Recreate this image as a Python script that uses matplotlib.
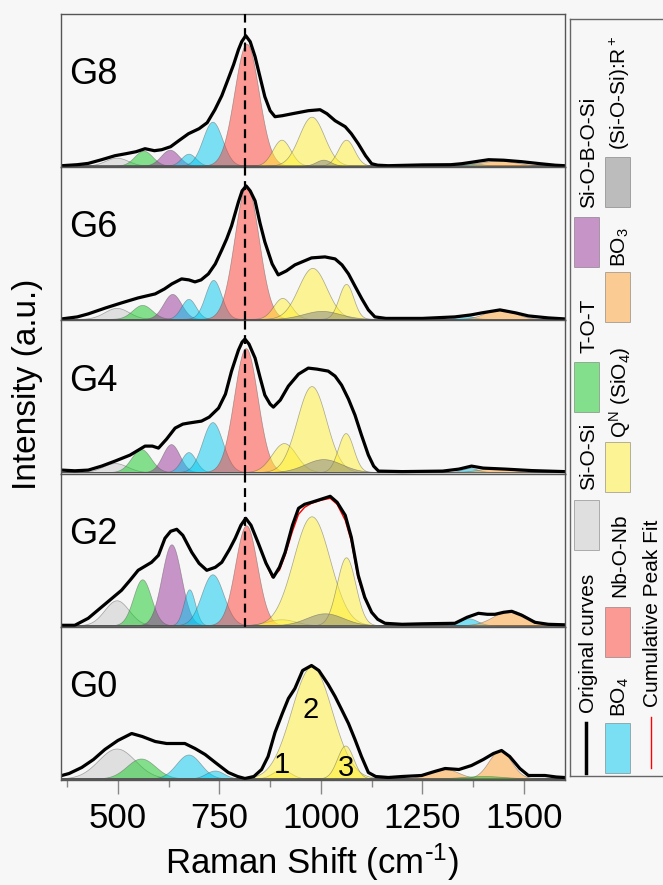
import numpy as np
import matplotlib.pyplot as plt
from matplotlib.patches import Rectangle
from matplotlib.ticker import FixedLocator

plt.rcParams['font.family'] = ['Liberation Sans', 'DejaVu Sans']
plt.rcParams['mathtext.default'] = 'regular'

samples = ['G8', 'G6', 'G4', 'G2', 'G0']

# band of each fitted component (same order for every sample)
peak_band = ['Si-O-Si', 'T-O-T', 'Si-O-B-O-Si', 'BO4', 'BO4', 'Nb-O-Nb',
             'QN', 'QN', 'QN', 'SiOSiR', 'BO4', 'BO3', 'BO3', 'T-O-T']

# fitted gaussian components: centre (cm-1), height (a.u.), sigma (cm-1)
peak_center = [
    [497, 563, 628, 674, 733, 817, 903, 977, 1062, 1006, 1371, 1305, 1437, 1410],
    [497, 560, 634, 674, 735, 817, 905, 979, 1062, 1002, 1355, 1305, 1441, 1410],
    [493, 557, 631, 674, 733, 815, 909, 977, 1061, 1006, 1367, 1305, 1429, 1410],
    [497, 560, 632, 676, 733, 816, 903, 977, 1062, 1010, 1363, 1305, 1466, 1410],
    [497, 557, 632, 674, 739, 815, 903, 977, 1060, 1006, 1371, 1302, 1441, 1400],
]
peak_height = [
    [8, 15, 16, 12, 44, 122, 26, 49, 26, 6, 2.5, 0, 5, 0],
    [11, 14, 25, 20, 39, 133, 21, 51, 35, 8, 3, 0, 10, 0],
    [9, 23, 28, 20, 50, 124, 29, 86, 39, 13, 4, 0, 4, 0],
    [25, 46, 81, 36, 51, 100, 6, 109, 68, 12, 7, 0, 15, 0],
    [30, 20, 0, 24, 8, 0, 9, 112, 33, 0, 0, 10, 28, 2.5],
]
peak_sigma = [
    [28, 22, 22, 18, 24, 30, 22, 31, 20, 18, 25, 30, 45, 40],
    [30, 24, 22, 18, 20, 30, 22, 35, 18, 45, 20, 30, 35, 40],
    [30, 24, 21, 18, 25, 29, 30, 36, 19, 45, 20, 30, 40, 40],
    [30, 22, 24, 14, 27, 27, 35, 45, 23, 45, 22, 30, 40, 40],
    [45, 35, 22, 30, 22, 30, 22, 50, 20, 45, 20, 35, 28, 50],
]

# original spectra
orig_wn = [
    [362, 400, 427, 460, 493, 520, 545, 567, 590, 608, 630, 650, 674, 700, 720, 739, 756, 772, 785, 797,
     805, 815, 826, 838, 850, 862, 875, 887, 905, 930, 969, 998, 1015, 1035, 1060, 1075, 1092, 1110, 1125,
     1140, 1166, 1250, 1320, 1347, 1380, 1413, 1450, 1495, 1540, 1577, 1600],
    [362, 400, 427, 470, 509, 550, 592, 615, 633, 657, 675, 690, 705, 723, 740, 756, 768, 780, 797, 806,
     816, 826, 838, 850, 862, 880, 895, 915, 936, 977, 1010, 1035, 1052, 1068, 1085, 1101, 1117, 1133, 1160,
     1250, 1330, 1370, 1396, 1441, 1480, 1511, 1560, 1600],
    [362, 394, 427, 460, 493, 530, 567, 585, 600, 620, 641, 660, 674, 690, 706, 725, 748, 765, 780, 797,
     806, 813, 823, 838, 850, 862, 875, 883, 900, 920, 945, 969, 990, 1018, 1035, 1051, 1068, 1084, 1100,
     1117, 1130, 1142, 1200, 1300, 1340, 1371, 1400, 1454, 1520, 1560, 1600],
    [362, 394, 427, 468, 509, 530, 550, 583, 600, 616, 630, 645, 660, 682, 700, 719, 740, 756, 775, 789,
     803, 815, 828, 846, 865, 883, 898, 912, 930, 945, 960, 977, 1000, 1023, 1040, 1060, 1075, 1092, 1108,
     1125, 1140, 1158, 1200, 1250, 1330, 1360, 1388, 1410, 1429, 1450, 1470, 1495, 1527, 1560, 1600],
    [362, 380, 411, 440, 468, 500, 534, 560, 592, 620, 645, 665, 690, 715, 740, 772, 795, 813, 835, 854,
     870, 887, 905, 920, 936, 955, 977, 995, 1018, 1035, 1051, 1068, 1084, 1100, 1117, 1135, 1166, 1200,
     1248, 1280, 1306, 1340, 1371, 1400, 1425, 1445, 1465, 1490, 1511, 1552, 1580, 1600],
]
orig_int = [
    [0, 1, 2.3, 6, 10, 12, 14, 17, 15, 16, 19, 25, 32, 37, 43, 56, 70, 87, 101, 116,
     124, 130, 124, 109, 89, 69, 55, 49, 50, 52, 55, 56, 52, 45, 39, 32, 22, 10, 2,
     0.5, 0, 0.8, 1, 2, 4, 6, 5.5, 4, 2, 0.5, 0],
    [0, 2, 5, 11, 16, 21, 25, 30, 35, 40, 39, 37, 39, 45, 55, 69, 80, 93, 117, 128,
     133, 128, 118, 96, 77, 55, 44, 48, 54, 61, 62, 60, 54, 45, 32, 20, 9, 2, 0.5,
     0.5, 2, 4, 6, 9, 6, 3, 1, 0],
    [2, 1.3, 2, 6, 11, 17, 26, 26, 24, 33, 44, 48, 49, 50, 51, 55, 64, 78, 101, 122,
     130, 133, 128, 114, 95, 77, 68, 65, 72, 86, 98, 104, 103, 101, 96, 87, 73, 57, 37,
     17, 6, 1, 0.5, 1, 3, 6, 4, 3, 1.5, 1, 0.5],
    [0, 0, 7, 21, 35, 45, 55, 63, 70, 87, 94, 96, 90, 73, 62, 55, 58, 63, 76, 87,
     100, 107, 100, 82, 62, 48, 58, 73, 100, 117, 121, 123, 126, 129, 123, 110, 88, 50, 28,
     13, 6, 2, 1, 1.5, 2, 8, 12, 11, 11, 13, 14, 10, 3, 1, 0.5],
    [3, 5, 11, 19, 29, 38, 45, 42, 37, 35, 35, 35, 30, 24, 16, 6, 2, 0, 2, 9,
     22, 46, 65, 80, 90, 108, 113, 108, 94, 82, 69, 55, 39, 22, 6, 2, 1, 2,
     3, 7, 10, 9, 13, 19, 25, 28, 22, 10, 3, 3, 1.5, 1],
]
# cumulative fit of G2 where it departs from the measured curve
fit_g2_wn = [880, 898, 912, 930, 945, 960, 977, 1000, 1023, 1040, 1060, 1075, 1092, 1108]
fit_g2_int = [48, 55, 70, 94, 111, 118, 122, 125, 127, 121, 105, 84, 47, 27]

band_color = {
    'Si-O-Si': '#c8c8c8', 'T-O-T': '#10c820', 'Si-O-B-O-Si': '#963296',
    'BO4': '#00c8f0', 'Nb-O-Nb': '#ff3c32', 'QN': '#fff032',
    'BO3': '#ffa032', 'SiOSiR': '#828282',
}
bg = '#f7f7f7'

fig = plt.figure(figsize=(6.63, 8.85), dpi=100, facecolor=bg)
W, H = 663.0, 885.0
left, right, top, ph = 61, 564.5, 14, 153.2
x = np.linspace(360, 1600, 1241)

axes = []
for i, name in enumerate(samples):
    y_top = top + i * ph
    ax = fig.add_axes([left / W, 1 - (y_top + ph) / H, (right - left) / W, ph / H])
    ax.set_facecolor(bg)
    for c, h, s, band in zip(peak_center[i], peak_height[i], peak_sigma[i], peak_band):
        if h <= 0:
            continue
        g = h * np.exp(-0.5 * ((x - c) / s) ** 2)
        ax.fill_between(x, 0, g, facecolor=band_color[band], edgecolor='#555555',
                        linewidth=0.5, alpha=0.5, zorder=1)
    if name == 'G2':
        fx = [w for w in orig_wn[i] if w < fit_g2_wn[0]] + fit_g2_wn + \
             [w for w in orig_wn[i] if w > fit_g2_wn[-1]]
        fy = [v for w, v in zip(orig_wn[i], orig_int[i]) if w < fit_g2_wn[0]] + fit_g2_int + \
             [v for w, v in zip(orig_wn[i], orig_int[i]) if w > fit_g2_wn[-1]]
    else:
        fx, fy = orig_wn[i], orig_int[i]
    ax.plot(fx, fy, color='red', lw=1.0, zorder=1.5)
    ax.plot(orig_wn[i], orig_int[i], color='black', lw=2.3, zorder=2)
    if name != 'G0':
        ax.axvline(813, color='black', lw=1.6, ls=(0, (4, 2.5)), zorder=4)
    ax.text(380, 91, name, fontsize=26, ha='left', va='center')
    ax.set_xlim(360, 1600)
    ax.set_ylim(-1.5, 151.7)
    ax.set_yticks([])
    for sp in ax.spines.values():
        sp.set_color('#555555')
        sp.set_linewidth(1.0)
    if name == 'G0':
        ax.set_xticks([500, 750, 1000, 1250, 1500])
        ax.xaxis.set_minor_locator(FixedLocator([375, 625, 875, 1125, 1375]))
        ax.tick_params(axis='x', which='major', length=10, width=1, color='#888888',
                       labelsize=25, pad=6)
        ax.tick_params(axis='x', which='minor', length=5, width=1, color='#888888')
        ax.text(903, 13.5, '1', fontsize=21, ha='center', va='center')
        ax.text(975, 69, '2', fontsize=21, ha='center', va='center')
        ax.text(1061, 11, '3', fontsize=21, ha='center', va='center')
    else:
        ax.set_xticks([])
    axes.append(ax)

fig.text(312 / W, 1 - 862 / H, r'Raman Shift (cm$^{\text{-}1}$)', fontsize=25,
         ha='center', va='center')
fig.text(28 / W, 1 - 384 / H, 'Intensity (a.u.)', fontsize=24, ha='center', va='center',
         rotation=90)

# rotated legend box on the right
lax = fig.add_axes([570 / W, 1 - 776 / H, 120 / W, (776 - 19) / H])
lax.set_facecolor(bg)
lax.set_xlim(570, 690)
lax.set_ylim(776, 19)
lax.set_xticks([])
lax.set_yticks([])
for sp in lax.spines.values():
    sp.set_color('#666666')
    sp.set_linewidth(1.0)

leg_fs = 15


def leg_text(xc, y0, s):
    lax.text(xc, y0, s, rotation=90, rotation_mode='anchor', ha='left', va='center',
             fontsize=leg_fs)


def leg_patch(x0, y0, band):
    lax.add_patch(Rectangle((x0, y0), 25, 50, facecolor=band_color[band], alpha=0.5,
                            edgecolor='#555555', linewidth=0.6))


lax.plot([586, 586], [773, 723], color='black', lw=2.5)
leg_text(589, 713, 'Original curves')
leg_patch(574, 500, 'Si-O-Si')
leg_text(589, 490, 'Si-O-Si')
leg_patch(574, 362, 'T-O-T')
leg_text(589, 353, 'T-O-T')
leg_patch(574, 217, 'Si-O-B-O-Si')
leg_text(589, 208, 'Si-O-B-O-Si')

leg_patch(605, 723, 'BO4')
leg_text(620, 717, 'BO$_4$')
leg_patch(605, 607, 'Nb-O-Nb')
leg_text(620, 597, 'Nb-O-Nb')
leg_patch(605, 442, 'QN')
leg_text(620, 438, 'Q$^N$ (SiO$_4$)')
leg_patch(605, 272, 'BO3')
leg_text(620, 267, 'BO$_3$')
leg_patch(605, 157, 'SiOSiR')
leg_text(620, 150, '(Si-O-Si):R$^+$')

lax.plot([651, 651], [768, 717], color='red', lw=1.0)
leg_text(652, 707, 'Cumulative Peak Fit')

fig.savefig('out.png', dpi=100, facecolor=bg)
